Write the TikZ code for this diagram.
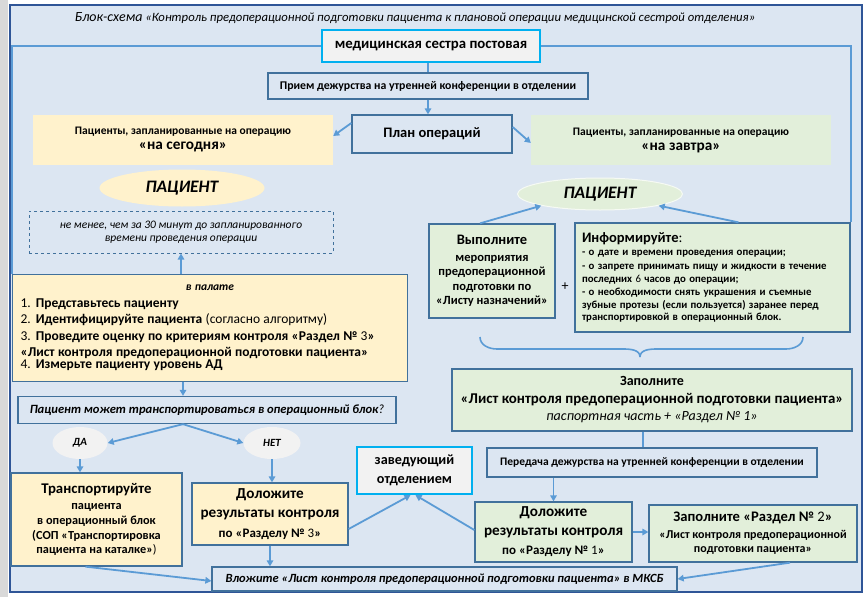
\documentclass[tikz,border=0pt]{standalone}
\usepackage{fontspec}
\setmainfont{Carlito}
\usetikzlibrary{arrows.meta,calc,shapes.geometric}
\definecolor{panel}{HTML}{DCE6F2}
\definecolor{edge}{HTML}{41719C}
\definecolor{conn}{HTML}{5B9BD5}
\definecolor{yel}{HTML}{FFF2CC}
\definecolor{grn}{HTML}{E2EFDA}
\definecolor{cyanb}{HTML}{00B0F0}
\definecolor{lgray}{HTML}{F2F2F2}
\definecolor{frame}{HTML}{2F5597}
\newcommand\fsz[2]{\fontsize{#1}{#2}\selectfont}
\begin{document}
\begin{tikzpicture}[x=1pt,y=-1pt,
  box/.style={draw=edge, line width=1.3pt, fill=panel, inner sep=3pt, align=center},
  ybox/.style={box, fill=yel},
  gbox/.style={box, fill=grn},
  cbox/.style={draw=cyanb, line width=2.3pt, fill=lgray, inner sep=3pt, align=center},
  plain/.style={inner sep=3pt, align=center},
  conn/.style={draw=conn, line width=1.8pt},
  arr/.style={conn, -{Triangle[length=6pt,width=6.5pt]}}
]
\useasboundingbox (0,0) rectangle (867,597);
\fill[white] (0,0) rectangle (867,597);
\fill[black!15] (0,0) rectangle (8,597);
\draw[frame, line width=1.6pt, fill=panel] (10,5) rectangle (862,592);

% title
\node[plain, font=\itshape\fsz{12.7}{15}] (title) at (415,18) {{\fsz{14}{16}Блок-схема} «Контроль предоперационной подготовки пациента к плановой операции медицинской сестрой отделения»};

% top
\node[cbox, minimum width=218pt, minimum height=32pt, font=\bfseries\fsz{14.8}{17}] (top) at (431,46) {медицинская сестра постовая};
\node[box, minimum width=320pt, minimum height=26pt, font=\bfseries\fsz{11.8}{14}] (priem) at (428,86) {Прием дежурства на утренней конференции в отделении};
\node[box, minimum width=160pt, minimum height=38pt, font=\bfseries\fsz{14.5}{17}] (plan) at (432,134) {План операций};

\node[plain, fill=yel, minimum width=300pt, minimum height=50pt, font=\bfseries\fsz{11.5}{15}] (today) at (183,140) {Пациенты, запланированные на операцию\\{\fsz{15.3}{17}«на сегодня»}};
\node[plain, fill=grn, minimum width=300pt, minimum height=50pt, font=\bfseries\fsz{11.5}{15}] (tomorrow) at (681,140) {Пациенты, запланированные на операцию\\{\fsz{15.3}{17}«на завтра»}};

\node[ellipse, fill=yel, minimum width=165pt, minimum height=37pt, inner sep=0pt, font=\bfseries\itshape\fsz{17.5}{19}] (ell1) at (182,188) {ПАЦИЕНТ};
\node[ellipse, fill=grn, draw=white!70!grn, line width=1pt, minimum width=165pt, minimum height=32pt, inner sep=0pt, font=\bfseries\itshape\fsz{17.5}{19}] (ell2) at (600,194) {ПАЦИЕНТ};

\node[plain, draw=edge, dashed, line width=1pt, minimum width=304pt, minimum height=42pt, font=\itshape\fsz{11.5}{13.5}] (dash) at (181,232) {не менее, чем за 30 минут до запланированного\\времени проведения операции};

% ward box
\node[ybox, minimum width=395pt, minimum height=107pt, text width=379pt, align=left, inner xsep=8pt] (palata) at (210,328) {\fsz{13.5}{16.5}\makebox[379pt]{\fsz{11.5}{16.5}\bfseries\itshape в палате}\\
1. \textbf{Представьтесь пациенту}\\
2. \textbf{Идентифицируйте пациента} (согласно алгоритму)\\
\makebox[379pt][s]{3. \textbf{Проведите оценку по критериям контроля «Раздел №} 3\textbf{»}}\\
\textbf{«Лист контроля предоперационной подготовки пациента»}\\
4. \textbf{Измерьте пациенту уровень АД}};

\node[box, minimum width=378pt, minimum height=27pt, font=\bfseries\itshape\fsz{12.6}{15}] (question) at (207,410) {Пациент может транспортироваться в операционный блок\textmd{?}};

\node[ellipse, fill=lgray, minimum width=55pt, minimum height=32pt, inner sep=0pt, font=\bfseries\itshape\fsz{11}{13}] (da) at (80,443) {ДА};
\node[ellipse, fill=lgray, minimum width=57pt, minimum height=32pt, inner sep=0pt, font=\bfseries\itshape\fsz{11}{13}] (net) at (272,443) {НЕТ};

\node[ybox, minimum width=171pt, minimum height=93pt, font=\bfseries\fsz{12.3}{14.7}] (transport) at (96.5,519.5) {{\fsz{14.8}{17}Транспортируйте}\\[2pt]пациента\\в операционный блок\\(СОП «Транспортировка\\пациента на каталке»\textmd{)}};

\node[ybox, minimum width=156pt, minimum height=62pt, font=\bfseries\fsz{15.2}{19.5}] (dol1) at (270,514) {Доложите\\результаты контроля\\{\fsz{13}{15}по «Разделу № \textmd{3}»}};

\node[box, minimum width=465pt, minimum height=24pt, font=\bfseries\itshape\fsz{12.5}{15}] (vlozh) at (444.5,579) {Вложите «Лист контроля предоперационной подготовки пациента» в МКСБ};

\node[cbox, minimum width=115pt, minimum height=47pt, font=\bfseries\fsz{14.2}{19}] (zav) at (414.5,470.5) {заведующий\\отделением};

% right column
\node[gbox, minimum width=126pt, minimum height=94pt, font=\bfseries\fsz{12.5}{14.5}] (vyp) at (492,271) {{\fsz{14.5}{17}Выполните}\\[2pt]мероприятия\\предоперационной\\подготовки по\\«Листу назначений»};
\node[plain, font=\fsz{14}{16}] (plus) at (565,287) {+};

\node[gbox, minimum width=275pt, minimum height=109pt, text width=261pt, align=left, inner xsep=7pt] (inform) at (712.5,277.5) {{\fsz{14.5}{17}\textbf{Информируйте}:}\\
\fsz{10.8}{13.1}\bfseries - о дате и времени проведения операции;\\
\makebox[261pt][s]{- о запрете принимать пищу и жидкости в течение}\\
последних \textmd{6} часов до операции;\\
\makebox[261pt][s]{- о необходимости снять украшения и съемные}\\
\makebox[261pt][s]{зубные протезы (если пользуется) заранее перед}\\
транспортировкой в операционный блок.};

\node[gbox, minimum width=400pt, minimum height=62pt, font=\bfseries\fsz{14.9}{17.5}] (zapoln) at (652,400) {{\fsz{14}{15}Заполните}\\«Лист контроля предоперационной подготовки пациента»\\{\fsz{14}{15}\mdseries\itshape паспортная часть + «Раздел № 1»}};

\node[box, minimum width=330pt, minimum height=29pt, font=\bfseries\fsz{11.5}{13}] (pered) at (652,462.5) {Передача дежурства на утренней конференции в отделении};

\node[gbox, minimum width=157pt, minimum height=60pt, font=\bfseries\fsz{15.2}{19}] (dol2) at (553.5,532) {Доложите\\результаты контроля\\{\fsz{13}{15}по «Разделу № \textmd{1}»}};

\node[gbox, minimum width=208pt, minimum height=57pt, font=\bfseries\fsz{12}{14.5}] (raz2) at (753,533.5) {{\fsz{14.6}{17}Заполните «Раздел № \textmd{2}»}\\[2pt]«Лист контроля предоперационной\\подготовки пациента»};

% connectors
\draw[conn] (top.west) -- (top.west -| palata.north west) -- (palata.north west);
\draw[conn] (top.east) -- (top.east -| inform.north east) -- (inform.north east);
\draw[conn] (top.south -| priem.north) -- (priem.north);
\draw[arr] (priem.south) -- (priem.south |- plan.north);
\draw[arr] ($(plan.west)+(0,-11)$) -- ($(today.east)+(0,-4)$);
\draw[arr] ($(plan.east)+(0,-7)$) -- ($(tomorrow.west)+(0,3)$);
\draw[arr] ($(vyp.north)+(-12,0)$) -- (ell2.south west);
\draw[arr] ($(inform.north)+(26,0)$) -- (ell2.south east);
\draw[arr] (dash.south |- palata.north) -- (dash.south);
\draw[arr] ($(palata.south)+(-27,0)$) -- ($(question.north)+(-24,0)$);
\draw[arr] ($(question.south)+(-24,0)$) -- (da.east);
\draw[arr] ($(question.south)+(-24,0)$) -- (net.west);
\draw[arr] (da.south) -- (da.south |- transport.north);
\draw[arr] (net.south) -- (net.south |- dol1.north);
\draw[arr] (dol1.south) -- (dol1.south |- vlozh.north);
\draw[arr] ($(transport.south)+(-11,0)$) -- ($(vlozh.west)+(0,2)$);
\draw[arr] ($(dol1.east)+(0,15)$) -- ($(zav.south)+(-4,0)$);
\draw[arr] ($(dol2.west)+(0,-2)$) -- ($(zav.south)+(1,0)$);
\draw[conn] ($(zapoln.south)+(-9,0)$) -- ($(pered.north)+(-9,0)$);
\draw[arr] (dol2.north |- pered.south) -- (dol2.north);
\draw[arr] (dol2.east) -- (dol2.east -| raz2.west);
\draw[arr] ($(raz2.south)+(37,0)$) -- (vlozh.east);

% brace
\coordinate (bl) at (480,337);
\coordinate (br) at (803,337);
\coordinate (btip) at (640,357);
\draw[conn, line width=1.6pt] (bl) to[out=-90,in=180] (497,349) -- (623,349) to[out=0,in=90] (btip);
\draw[conn, line width=1.6pt] (btip) to[out=90,in=180] (657,349) -- (786,349) to[out=0,in=-90] (br);
\end{tikzpicture}
\end{document}
